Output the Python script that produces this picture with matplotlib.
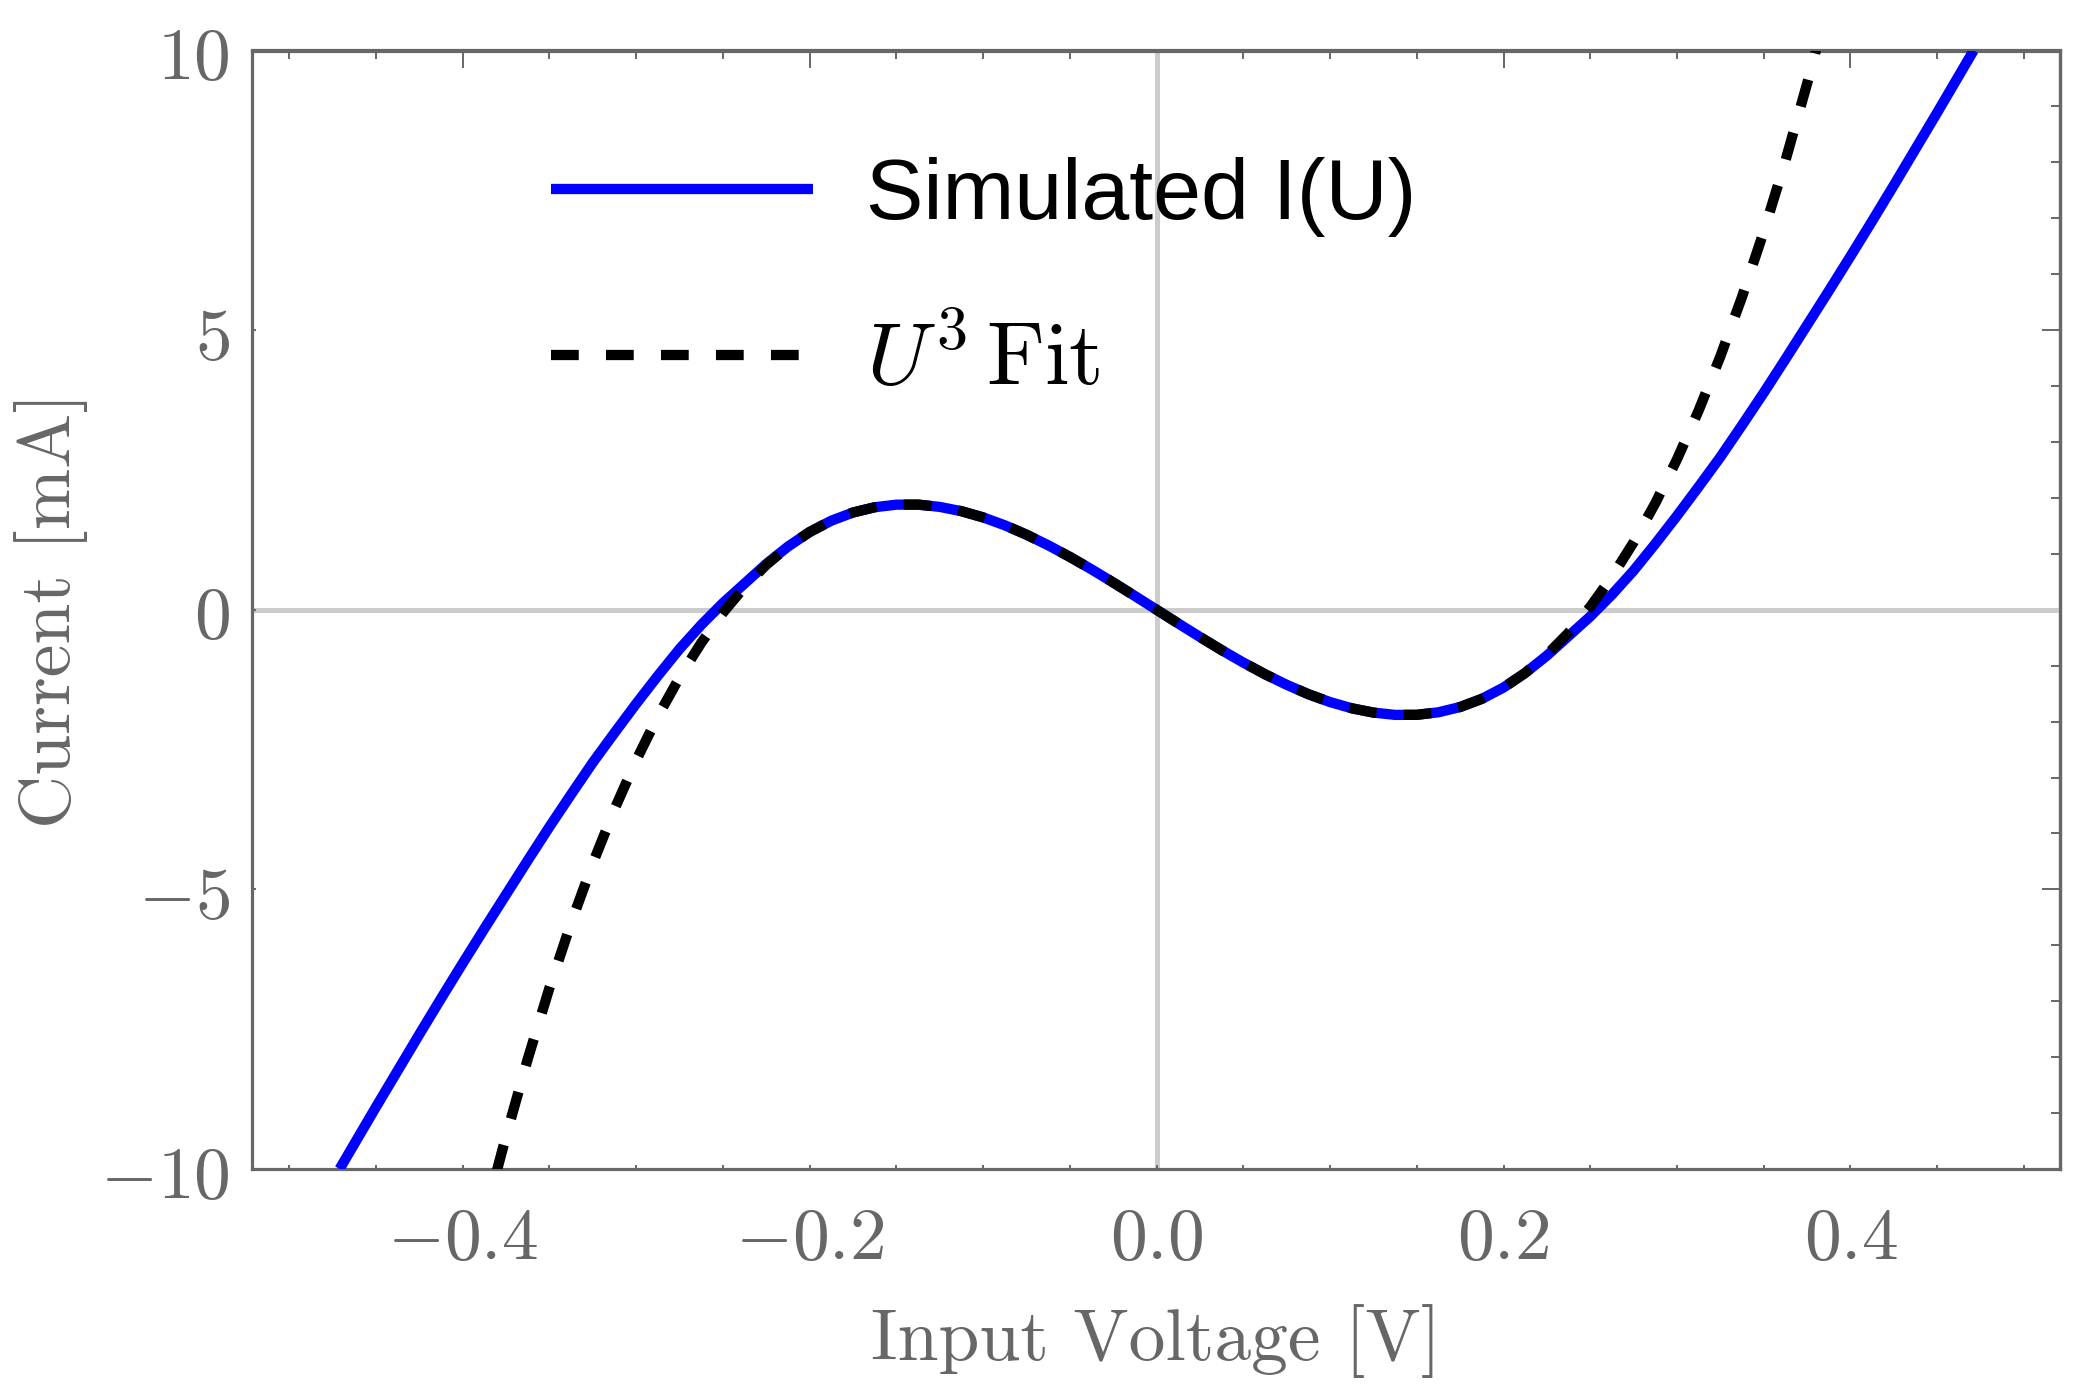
import matplotlib
matplotlib.use("Agg")
import matplotlib.pyplot as plt
from matplotlib.ticker import MultipleLocator, FixedLocator, NullFormatter
from matplotlib.lines import Line2D

# ---------------- data ----------------
u_sim = [-0.471, -0.4625, -0.45, -0.4375, -0.425, -0.4125, -0.4, -0.3875, -0.375,
         -0.3625, -0.35, -0.3375, -0.325, -0.3125, -0.3, -0.2875, -0.275, -0.2625,
         -0.25, -0.2375, -0.225, -0.2125, -0.2, -0.1875, -0.175, -0.1625, -0.15,
         -0.1375, -0.125, -0.1125, -0.1, -0.0875, -0.075, -0.0625, -0.05, -0.0375,
         -0.025, -0.0125, 0.0,
         0.0125, 0.025, 0.0375, 0.05, 0.0625, 0.075, 0.0875, 0.1, 0.1125, 0.125,
         0.1375, 0.15, 0.1625, 0.175, 0.1875, 0.2, 0.2125, 0.225, 0.2375, 0.25,
         0.2625, 0.275, 0.2875, 0.3, 0.3125, 0.325, 0.3375, 0.35, 0.3625, 0.375,
         0.3875, 0.4, 0.4125, 0.425, 0.4375, 0.45, 0.4625, 0.471]
i_sim = [-10.0, -9.55, -8.89, -8.24, -7.59, -6.95, -6.32, -5.70, -5.09,
         -4.48, -3.88, -3.30, -2.73, -2.20, -1.68, -1.18, -0.70, -0.27,
         0.12, 0.47, 0.82, 1.13, 1.391, 1.593, 1.739, 1.833, 1.879,
         1.880, 1.839, 1.762, 1.651, 1.510, 1.342, 1.153, 0.945, 0.722,
         0.487, 0.2455, 0.0,
         -0.2455, -0.487, -0.722, -0.945, -1.153, -1.342, -1.510, -1.651, -1.762, -1.839,
         -1.880, -1.879, -1.833, -1.739, -1.593, -1.391, -1.13, -0.82, -0.47, -0.12,
         0.27, 0.70, 1.18, 1.68, 2.20, 2.73, 3.30, 3.88, 4.48, 5.09,
         5.70, 6.32, 6.95, 7.59, 8.24, 8.89, 9.55, 10.0]

u_fit = [-0.3805, -0.375, -0.3625, -0.35, -0.3375, -0.325, -0.3125, -0.3, -0.2875,
         -0.275, -0.2625, -0.25, -0.2375, -0.225, -0.2125, -0.2, -0.1875, -0.175,
         -0.1625, -0.15, -0.1375, -0.125, -0.1125, -0.1, -0.0875, -0.075, -0.0625,
         -0.05, -0.0375, -0.025, -0.0125, 0.0,
         0.0125, 0.025, 0.0375, 0.05, 0.0625, 0.075, 0.0875, 0.1, 0.1125, 0.125,
         0.1375, 0.15, 0.1625, 0.175, 0.1875, 0.2, 0.2125, 0.225, 0.2375, 0.25,
         0.2625, 0.275, 0.2875, 0.3, 0.3125, 0.325, 0.3375, 0.35, 0.3625, 0.375,
         0.3805]
i_fit = [-10.05, -9.407, -8.029, -6.760, -5.595, -4.531, -3.564, -2.690, -1.905,
         -1.207, -0.591, -0.053, 0.411, 0.804, 1.129, 1.391, 1.593, 1.739,
         1.833, 1.879, 1.880, 1.839, 1.762, 1.651, 1.510, 1.342, 1.153,
         0.945, 0.722, 0.487, 0.2455, 0.0,
         -0.2455, -0.487, -0.722, -0.945, -1.153, -1.342, -1.510, -1.651, -1.762, -1.839,
         -1.880, -1.879, -1.833, -1.739, -1.593, -1.391, -1.129, -0.804, -0.411, 0.053,
         0.591, 1.207, 1.905, 2.690, 3.564, 4.531, 5.595, 6.760, 8.029, 9.407,
         10.05]

x_ticks = [-0.4, -0.2, 0.0, 0.2, 0.4]
x_tick_labels = [r"$-0.4$", r"$-0.2$", r"$0.0$", r"$0.2$", r"$0.4$"]
y_ticks = [-10, -5, 0, 5, 10]
y_tick_labels = [r"$-10$", r"$-5$", r"$0$", r"$5$", r"$10$"]
x_limits = (-0.5215, 0.5208)
y_limits = (-10, 10)

sim_label = "Simulated I(U)"
fit_label = r"$U^3\,\mathrm{Fit}$"
x_label = "Input Voltage [V]"
y_label = "Current [mA]"

# ---------------- style ----------------
plt.rcParams["mathtext.fontset"] = "cm"
GRAY = "#676767"
AXGRID = "#cccccc"
LW = 7.4
DASH = (0, (2.7, 2.65))

fig = plt.figure(figsize=(20.83, 13.89), dpi=100)
ax = fig.add_axes([252 / 2083, 1 - 1169 / 1389, 1808 / 2083, 1118.5 / 1389])

ax.axhline(0, color=AXGRID, lw=3.6, zorder=1)
ax.axvline(0, color=AXGRID, lw=3.6, zorder=1)

ax.plot(u_sim, i_sim, color="#0000ff", lw=LW, solid_capstyle="butt", zorder=3)
ax.plot(u_fit, i_fit, color="black", lw=LW, linestyle=DASH, dash_capstyle="butt", zorder=4)

ax.set_xlim(*x_limits)
ax.set_ylim(*y_limits)

for s in ax.spines.values():
    s.set_color(GRAY)
    s.set_linewidth(2.3)

ax.xaxis.set_major_locator(FixedLocator(x_ticks))
ax.set_xticklabels(x_tick_labels)
ax.xaxis.set_minor_locator(MultipleLocator(0.05))
ax.yaxis.set_major_locator(FixedLocator(y_ticks))
ax.set_yticklabels(y_tick_labels)

ax.tick_params(axis="x", which="both", direction="in", length=2.6, width=1.4,
               color=GRAY, labelcolor=GRAY, labelsize=53, pad=24,
               top=False, bottom=True)
ax.tick_params(axis="y", which="major", direction="in", length=2.6, width=1.4,
               color=GRAY, labelcolor=GRAY, labelsize=53, pad=16,
               right=False, left=True)
ax.tick_params(axis="y", which="minor", left=False, right=False)

secx = ax.secondary_xaxis("top")
secx.xaxis.set_major_locator(FixedLocator(x_ticks))
secx.xaxis.set_minor_locator(MultipleLocator(0.05))
secx.xaxis.set_major_formatter(NullFormatter())
secx.tick_params(axis="x", which="major", direction="in", length=13, width=1.4, color=GRAY)
secx.tick_params(axis="x", which="minor", direction="in", length=6.5, width=1.4, color=GRAY)
secx.spines["top"].set_color(GRAY)
secx.spines["top"].set_linewidth(2.3)

secy = ax.secondary_yaxis("right")
secy.yaxis.set_major_locator(FixedLocator(y_ticks))
secy.yaxis.set_minor_locator(MultipleLocator(1))
secy.yaxis.set_major_formatter(NullFormatter())
secy.tick_params(axis="y", which="major", direction="in", length=13, width=1.4, color=GRAY)
secy.tick_params(axis="y", which="minor", direction="in", length=6.5, width=1.4, color=GRAY)
secy.spines["right"].set_color(GRAY)
secy.spines["right"].set_linewidth(2.3)

ax.set_xlabel(x_label, fontfamily="cmr10", fontsize=53, color=GRAY, va="baseline")
ax.xaxis.set_label_coords(0.5, (1169 - 1360) / 1118.5)
ax.set_ylabel(y_label, fontfamily="cmr10", fontsize=53, color=GRAY, va="baseline")
ax.yaxis.set_label_coords((70 - 252) / 1808, 0.5)

handles = [
    Line2D([], [], color="#0000ff", lw=LW, solid_capstyle="butt"),
    Line2D([], [], color="black", lw=LW, linestyle=DASH, dash_capstyle="butt"),
]
leg = ax.legend(handles, [sim_label, fit_label], loc="upper left",
                bbox_to_anchor=((551 - 252) / 1808, (1169 - 157) / 1118.5),
                frameon=False, fontsize=62, handlelength=3.04, handletextpad=0.62,
                labelspacing=0.93, borderpad=0, borderaxespad=0)
leg.get_texts()[0].set_fontfamily("Liberation Sans")
leg.get_texts()[1].set_fontsize(64)
leg.set_zorder(5)

fig.savefig("out.png", dpi=100)
